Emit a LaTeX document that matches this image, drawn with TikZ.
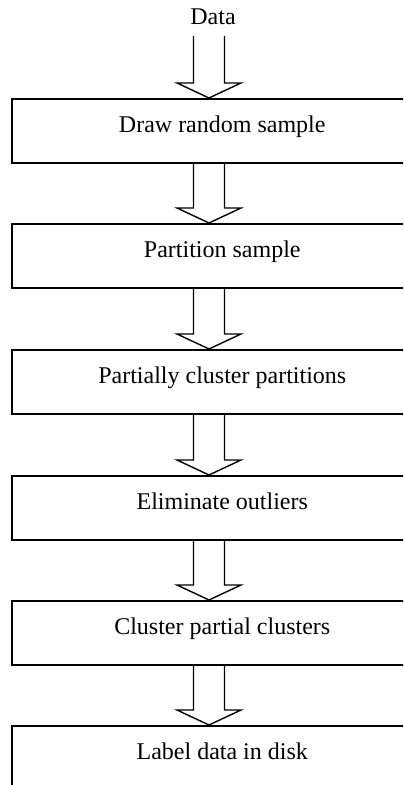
\documentclass[tikz,border=0pt]{standalone}
\usepackage{fontspec}
\setmainfont{Liberation Serif}
\usetikzlibrary{calc}

\tikzset{
  stage/.style={draw, rectangle, line width=1pt, anchor=north west,
    minimum width=210.75pt, minimum height=32pt, inner sep=0pt,
    text height=6.75pt, text depth=5.25pt, font=\fontsize{12}{14}\selectfont},
  hollow/.style={line width=0.7pt, line join=miter},
}

% hollow block arrow, shaft from #1 down to the tip at #2
\newcommand{\hollowarrow}[2]{%
  \draw[hollow] let \p1=(#1), \p2=(#2) in
    (\x1-7.75pt,\y1) -- (\x1-7.75pt,\y2+7.5pt) -- (\x1-16pt,\y2+7.5pt)
    -- (\x2,\y2) -- (\x1+16pt,\y2+7.5pt) -- (\x1+7.75pt,\y2+7.5pt)
    -- (\x1+7.75pt,\y1);}

\begin{document}
\begin{tikzpicture}
        \clip (0,0) rectangle (201.5pt,-392.5pt);
        \coordinate (axis) at (104.5pt,0);

        \node[font=\fontsize{12}{14}\selectfont, anchor=base] (data) at (106.5pt,-12.2pt) {Data};
        \coordinate (feed) at (104.5pt,-18pt);

        \node[stage] (sample)  at (5.25pt,-49pt)    {Draw random sample};
        \node[stage] (part)    at (5.25pt,-111.5pt) {Partition sample};
        \node[stage] (partial) at (5.25pt,-174.5pt) {Partially cluster partitions};
        \node[stage] (outl)    at (5.25pt,-237.5pt) {Eliminate outliers};
        \node[stage] (merge)   at (5.25pt,-300pt)   {Cluster partial clusters};
        \node[stage] (label)   at (5.25pt,-362.5pt) {Label data in disk};

        \hollowarrow{feed}{sample.north -| axis}
        \hollowarrow{sample.south -| axis}{part.north -| axis}
        \hollowarrow{part.south -| axis}{partial.north -| axis}
        \hollowarrow{partial.south -| axis}{outl.north -| axis}
        \hollowarrow{outl.south -| axis}{merge.north -| axis}
        \hollowarrow{merge.south -| axis}{label.north -| axis}

    \end{tikzpicture}
\end{document}
